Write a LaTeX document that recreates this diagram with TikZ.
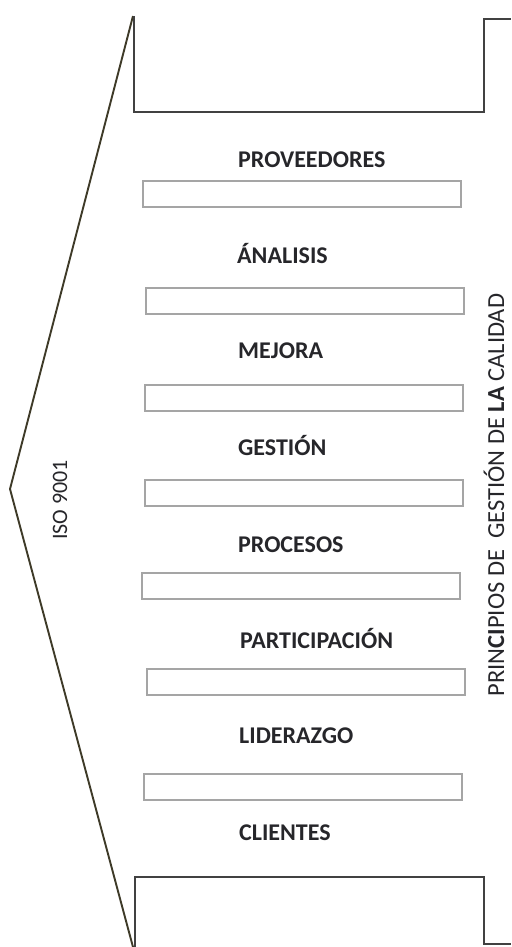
\documentclass[tikz,border=0pt]{standalone}
\usepackage{fontspec}
\setmainfont{Carlito}
\definecolor{txt}{RGB}{38,38,42}
\definecolor{boxgray}{RGB}{165,165,165}
\definecolor{framegray}{RGB}{65,65,65}
\definecolor{diagcol}{RGB}{62,58,40}
\tikzset{
  lbl/.style={anchor=base west, inner sep=0pt, font=\fontsize{24}{24}\selectfont\bfseries, text=txt},
  slot/.style={draw=boxgray, line width=1.5pt, fill=white, inner sep=0pt, anchor=north west,
               minimum width=318pt, minimum height=26pt},
  frame/.style={draw=framegray, line width=1.9pt, line join=miter},
  diag/.style={draw=diagcol, line width=1.9pt, line join=miter},
  vtext/.style={inner sep=0pt, outer sep=0pt, rotate=90, anchor=base, text=txt}
}
\begin{document}
\begin{tikzpicture}[x=1pt,y=-1pt]
\useasboundingbox (0,0) rectangle (511,947);
% funnel outline
\coordinate (dtop) at (133,16);
\coordinate (apex) at (10,489);
\coordinate (dbot) at (133,947);
\draw[diag] (dtop) -- (apex) -- (dbot);
% top bracket
\coordinate (t1) at (134,16);
\coordinate (t2) at (134,112);
\coordinate (t3) at (484,112);
\coordinate (t4) at (484,19);
\coordinate (t5) at (511,19);
\draw[frame] (t1) -- (t2) -- (t3) -- (t4) -- (t5);
% bottom bracket
\coordinate (u1) at (135,947);
\coordinate (u2) at (135,877);
\coordinate (u3) at (484,877);
\coordinate (u4) at (484,944);
\coordinate (u5) at (511,944);
\draw[frame] (u1) -- (u2) -- (u3) -- (u4) -- (u5);
% slots
\node[slot] (b1) at (142,180) {};
\node[slot] (b2) at (145,287) {};
\node[slot] (b3) at (144,384) {};
\node[slot] (b4) at (144,479) {};
\node[slot] (b5) at (141,572) {};
\node[slot] (b6) at (146,668) {};
\node[slot] (b7) at (143,773) {};
% labels
\node[lbl] (l1) at (238,167) {PROVEEDORES};
\node[lbl] (l2) at (237,263) {ÁNALISIS};
\node[lbl] (l3) at (238,358) {MEJORA};
\node[lbl] (l4) at (238,455) {GESTIÓN};
\node[lbl] (l5) at (238,552) {PROCESOS};
\node[lbl] (l6) at (240,648) {PARTICIPACIÓN};
\node[lbl] (l7) at (239,743) {LIDERAZGO};
\node[lbl] (l8) at (239,840) {CLIENTES};
% vertical texts
\node[vtext, font=\fontsize{22}{22}\selectfont] (iso) at (67,500) {ISO 9001};
\node[vtext, font=\fontsize{24.5}{24.5}\selectfont] (pgc) at (504,495)
  {PRIN{\bfseries CI}PIOS DE\ \ GESTIÓN DE {\bfseries LA} CALIDAD};
\end{tikzpicture}
\end{document}
